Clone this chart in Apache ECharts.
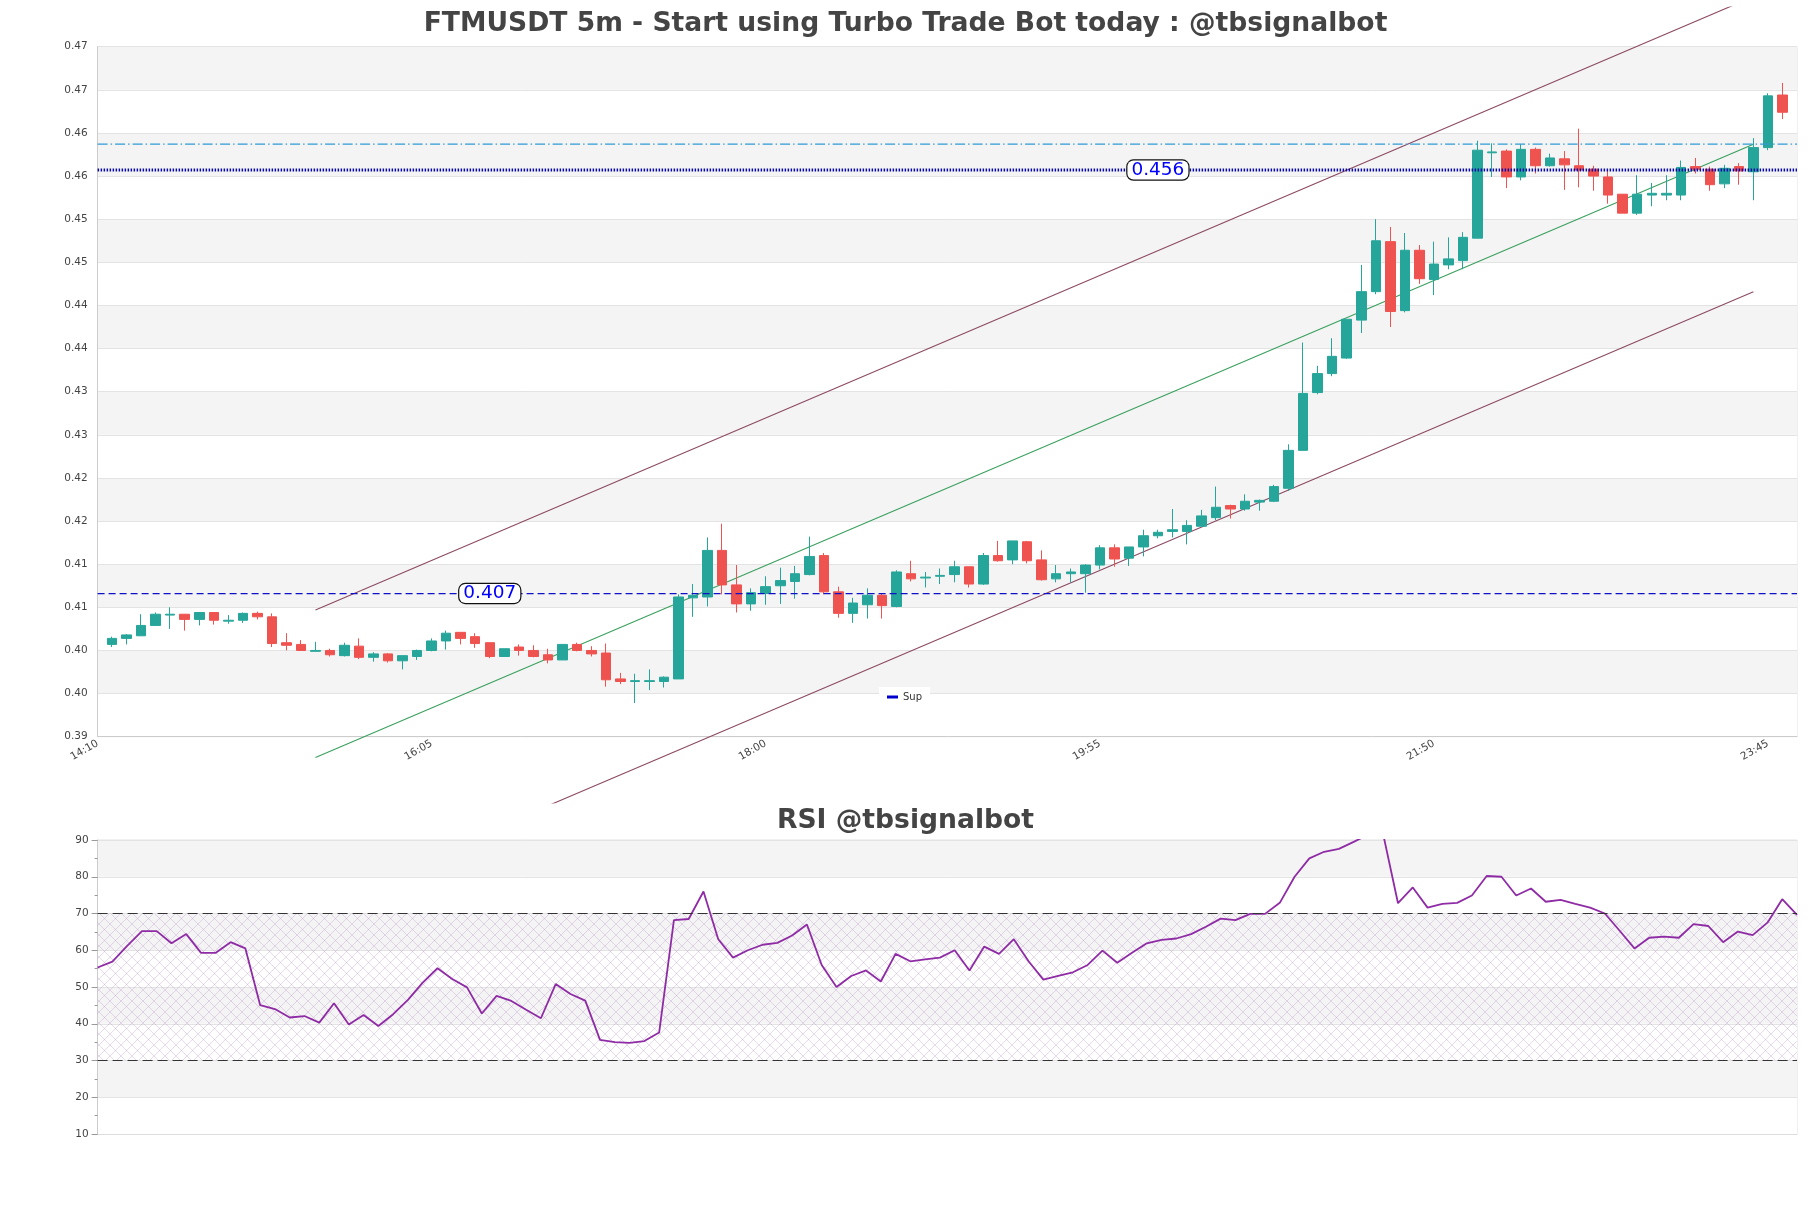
<!DOCTYPE html>
<html><head><meta charset="utf-8">
<script src="https://cdn.jsdelivr.net/npm/echarts@6/dist/echarts.min.js"></script>
<style>html,body{margin:0;padding:0;background:#fff}#c{width:1811px;height:1208px}</style>
</head><body><div id="c"></div><script>
const times = ["14:10","14:15","14:20","14:25","14:30","14:35","14:40","14:45","14:50","14:55",
"15:00","15:05","15:10","15:15","15:20","15:25","15:30","15:35","15:40","15:45","15:50","15:55",
"16:00","16:05","16:10","16:15","16:20","16:25","16:30","16:35","16:40","16:45","16:50","16:55",
"17:00","17:05","17:10","17:15","17:20","17:25","17:30","17:35","17:40","17:45","17:50","17:55",
"18:00","18:05","18:10","18:15","18:20","18:25","18:30","18:35","18:40","18:45","18:50","18:55",
"19:00","19:05","19:10","19:15","19:20","19:25","19:30","19:35","19:40","19:45","19:50","19:55",
"20:00","20:05","20:10","20:15","20:20","20:25","20:30","20:35","20:40","20:45","20:50","20:55",
"21:00","21:05","21:10","21:15","21:20","21:25","21:30","21:35","21:40","21:45","21:50","21:55",
"22:00","22:05","22:10","22:15","22:20","22:25","22:30","22:35","22:40","22:45","22:50","22:55",
"23:00","23:05","23:10","23:15","23:20","23:25","23:30","23:35","23:40","23:45","23:50","23:55"];
// candles at category index 1..116
const opens = [0.4007,0.4014,0.4017,0.4029,0.4041,0.4042,0.4036,0.4044,0.4034,0.4035,0.4043,0.4039,0.4009,0.4007,0.3999,0.4000,0.3994,0.4005,0.3992,0.3996,
0.3988,0.3993,0.4000,0.4011,0.4021,0.4016,0.4009,0.3993,0.4004,0.4000,0.3995,0.3989,0.4007,0.4000,0.3997,0.3967,0.3964,0.3964,0.3964,0.3967,
0.4061,0.4062,0.4116,0.4076,0.4054,0.4066,0.4075,0.4080,0.4088,0.4110,0.4068,0.4043,0.4053,0.4064,0.4051,0.4089,0.4084,0.4086,0.4088,0.4097,
0.4077,0.4110,0.4105,0.4126,0.4105,0.4083,0.4089,0.4089,0.4099,0.4119,0.4107,0.4120,0.4133,0.4138,0.4138,0.4144,0.4154,0.4168,0.4164,0.4172,
0.4173,0.4188,0.4232,0.4299,0.4321,0.4339,0.4383,0.4416,0.4474,0.4394,0.4464,0.4430,0.4447,0.4452,0.4478,0.4577,0.4579,0.4549,0.4581,0.4562,
0.4570,0.4562,0.4558,0.4549,0.4529,0.4507,0.4528,0.4528,0.4528,0.4561,0.4558,0.4541,0.4561,0.4555,0.4583,0.4644];
const closes = [0.4014,0.4018,0.4029,0.4042,0.4042,0.4036,0.4044,0.4035,0.4035,0.4043,0.4039,0.4008,0.4006,0.4000,0.4000,0.3995,0.4006,0.3992,0.3996,0.3988,
0.3994,0.4000,0.4011,0.4020,0.4014,0.4008,0.3993,0.4002,0.4000,0.3993,0.3989,0.4007,0.4000,0.3996,0.3966,0.3964,0.3965,0.3965,0.3969,0.4062,
0.4064,0.4116,0.4076,0.4054,0.4067,0.4074,0.4081,0.4089,0.4109,0.4068,0.4043,0.4055,0.4064,0.4052,0.4091,0.4083,0.4085,0.4087,0.4097,0.4077,
0.4110,0.4104,0.4127,0.4104,0.4082,0.4089,0.4091,0.4099,0.4119,0.4106,0.4120,0.4133,0.4137,0.4140,0.4145,0.4156,0.4166,0.4164,0.4173,0.4174,
0.4190,0.4232,0.4298,0.4321,0.4341,0.4384,0.4416,0.4475,0.4393,0.4464,0.4431,0.4448,0.4454,0.4479,0.4580,0.4578,0.4549,0.4581,0.4562,0.4571,
0.4563,0.4557,0.4550,0.4528,0.4507,0.4529,0.4530,0.4530,0.4560,0.4558,0.4540,0.4559,0.4556,0.4583,0.4643,0.4624];
const lows = [0.4004,0.4007,0.4017,0.4029,0.4025,0.4023,0.4029,0.4030,0.4031,0.4032,0.4036,0.4004,0.4000,0.4000,0.3999,0.3993,0.3993,0.3990,0.3987,0.3986,
0.3978,0.3989,0.3999,0.4001,0.4007,0.4003,0.3991,0.3993,0.3994,0.3992,0.3985,0.3989,0.3999,0.3993,0.3958,0.3961,0.3939,0.3954,0.3957,0.3967,
0.4039,0.4051,0.4065,0.4044,0.4046,0.4053,0.4054,0.4060,0.4087,0.4065,0.4038,0.4032,0.4037,0.4037,0.4050,0.4080,0.4073,0.4077,0.4079,0.4073,
0.4076,0.4103,0.4100,0.4101,0.4081,0.4079,0.4079,0.4067,0.4094,0.4097,0.4098,0.4109,0.4130,0.4131,0.4123,0.4144,0.4151,0.4153,0.4162,0.4162,
0.4172,0.4185,0.4232,0.4297,0.4318,0.4338,0.4368,0.4413,0.4375,0.4392,0.4425,0.4412,0.4442,0.4442,0.4478,0.4549,0.4536,0.4545,0.4553,0.4561,
0.4534,0.4537,0.4533,0.4518,0.4507,0.4505,0.4515,0.4522,0.4522,0.4553,0.4533,0.4536,0.4540,0.4522,0.4580,0.4616];
const highs = [0.4016,0.4019,0.4042,0.4044,0.4050,0.4042,0.4044,0.4044,0.4041,0.4044,0.4045,0.4043,0.4020,0.4012,0.4010,0.4002,0.4009,0.4014,0.3998,0.3997,
0.3994,0.4001,0.4014,0.4023,0.4021,0.4020,0.4009,0.4002,0.4007,0.4006,0.4002,0.4007,0.4009,0.4005,0.4008,0.3974,0.3973,0.3978,0.3970,0.4065,
0.4077,0.4131,0.4147,0.4099,0.4072,0.4086,0.4096,0.4098,0.4132,0.4113,0.4074,0.4061,0.4072,0.4066,0.4093,0.4104,0.4091,0.4095,0.4104,0.4097,
0.4113,0.4127,0.4127,0.4127,0.4116,0.4099,0.4095,0.4100,0.4122,0.4123,0.4120,0.4140,0.4140,0.4164,0.4151,0.4163,0.4190,0.4169,0.4181,0.4175,
0.4192,0.4239,0.4357,0.4330,0.4362,0.4384,0.4447,0.4500,0.4491,0.4484,0.4470,0.4474,0.4479,0.4485,0.4591,0.4588,0.4581,0.4587,0.4583,0.4576,
0.4579,0.4605,0.4562,0.4558,0.4529,0.4551,0.4542,0.4551,0.4568,0.4571,0.4561,0.4563,0.4565,0.4594,0.4646,0.4658];
const rsi = [55.3,56.9,61.2,65.2,65.2,61.9,64.4,59.3,59.3,62.2,60.5,45.1,44.0,41.7,42.1,40.3,45.6,39.8,42.4,39.4,
42.6,46.5,51.2,55.1,52.2,49.9,42.8,47.6,46.2,43.8,41.5,50.8,48.1,46.3,35.6,35.0,34.8,35.3,37.6,68.2,
68.5,76.0,63.0,58.0,60.0,61.5,62.0,64.0,67.0,56.0,50.0,53.0,54.5,51.5,59.0,57.0,57.5,58.0,60.0,54.5,
61.0,59.0,63.0,57.0,52.0,53.0,54.0,56.0,59.9,56.6,59.3,61.9,62.8,63.2,64.4,66.4,68.6,68.2,69.9,69.9,
72.9,80.0,85.0,86.8,87.6,89.5,91.5,91.5,72.8,77.1,71.6,72.6,72.9,74.9,80.2,80.0,74.9,76.8,73.2,73.7,
72.6,71.6,70.0,65.3,60.5,63.4,63.7,63.4,67.1,66.6,62.2,65.1,64.1,67.5,73.9,69.6];
const supLevel = 0.4066;
const resLevel = 0.4557;
const topLevel = 0.4587;
const supLabelAt = 27, resLabelAt = 73;
const channelIdx = [15, 114];
const channelMid = [0.3876, 0.4587];
const channelHalf = 0.0171;
const rsiLevels = [30, 70];
const mainTitle = "FTMUSDT 5m - Start using Turbo Trade Bot today : @tbsignalbot";
const rsiTitle = "RSI @tbsignalbot";

// layout
const L = 97.6, R = 14, mainTop = 46.7, mainBottom = 736.7, clipTop = 7, clipBottom = 803;
const rsiTop = 840, rsiBottom = 1134;
const yMin = 0.39, yMax = 0.47;
const ppu = (mainBottom - mainTop) / (yMax - yMin);
const ovMax = yMax + (mainTop - clipTop) / ppu;
const ovMin = yMin - (clipBottom - mainBottom) / ppu;

const candleData = times.map((t, i) => (i >= 1 && i <= opens.length) ? [opens[i-1], closes[i-1], lows[i-1], highs[i-1]] : '-');
const rsiTimes = times.slice(1, 1 + rsi.length);
const lastIdx = times.length - 1;

function hatch(){
  const c = document.createElement('canvas'); c.width = 11; c.height = 11;
  const g = c.getContext('2d');
  g.strokeStyle = 'rgba(170,130,190,0.5)'; g.lineWidth = 0.6;
  g.beginPath(); g.moveTo(0,0); g.lineTo(11,11); g.moveTo(11,0); g.lineTo(0,11); g.stroke();
  return c;
}
const fmt2 = v => (Math.floor(v*100 + 0.5 + 1e-6)/100).toFixed(2);
const lbl = {fontSize:10.5, color:'#444'};
const boxLabel = (txt) => ({show:true, position:'inside', formatter: txt, color:'#0000ff', fontSize:18.5,
  backgroundColor:'#fff', borderColor:'#111', borderWidth:1.2, borderRadius:6, padding:[0,4], lineHeight:19});
const titleStyle = {fontSize:26.6, fontWeight:'bold', color:'#444', fontFamily:'DejaVu Sans'};

const chart = echarts.init(document.getElementById('c'), null, {renderer:'canvas'});
chart.setOption({
  animation:false,
  textStyle:{fontFamily:'DejaVu Sans'},
  title:[
    {text:mainTitle, left:'center', top:6, textStyle:titleStyle},
    {text:rsiTitle, left:'center', top:803, textStyle:titleStyle}
  ],
  legend:{data:['Sup'], left:879, top:687, icon:'rect', itemWidth:11, itemHeight:3, backgroundColor:'#fff',
    padding:[5,8], textStyle:{fontSize:10, color:'#333'}, itemGap:5},
  grid:[
    {left:L, right:R, top:mainTop, height:mainBottom-mainTop, show:true, borderColor:'#e2e2e2', borderWidth:1, backgroundColor:'transparent'},
    {left:L, right:R, top:rsiTop, height:rsiBottom-rsiTop, show:true, borderColor:'#e2e2e2', borderWidth:1},
    {left:L, right:R, top:clipTop, height:clipBottom-clipTop}
  ],
  xAxis:[
    {type:'category', gridIndex:0, data:times, boundaryGap:false,
     axisLine:{lineStyle:{color:'#cccccc'}}, axisTick:{show:false},
     axisLabel:Object.assign({interval:(i)=> i % 23 === 0, rotate:30, margin:6, hideOverlap:false}, lbl),
     splitLine:{show:false}},
    {type:'category', gridIndex:1, data:rsiTimes, boundaryGap:false,
     axisLine:{lineStyle:{color:'#dddddd'}}, axisTick:{show:false}, axisLabel:{show:false}, splitLine:{show:false}},
    {type:'category', gridIndex:2, data:times, boundaryGap:false, show:false}
  ],
  yAxis:[
    {type:'value', gridIndex:0, min:yMin, max:yMax, interval:0.005, scale:true,
     axisLine:{show:true, lineStyle:{color:'#cccccc'}}, axisTick:{show:false},
     axisLabel:Object.assign({formatter:fmt2, margin:10}, lbl),
     splitLine:{lineStyle:{color:'#e3e3e3'}},
     splitArea:{show:true, areaStyle:{color:['#ffffff','#f4f4f4']}}},
    {type:'value', gridIndex:1, min:10, max:90, interval:10,
     axisLine:{show:true, lineStyle:{color:'#cccccc'}},
     axisTick:{show:true, length:6, lineStyle:{color:'#999'}},
     minorTick:{show:true, splitNumber:2, length:3, lineStyle:{color:'#999'}},
     axisLabel:Object.assign({margin:9}, lbl),
     splitLine:{lineStyle:{color:'#e3e3e3'}},
     splitArea:{show:true, areaStyle:{color:['#ffffff','#f4f4f4']}}},
    {type:'value', gridIndex:2, min:ovMin, max:ovMax, show:false, splitLine:{show:false}}
  ],
  series:[
    {name:'upper', type:'line', xAxisIndex:2, yAxisIndex:2, symbol:'none', clip:true, z:2,
     data:[[channelIdx[0], channelMid[0]+channelHalf],[channelIdx[1], channelMid[1]+channelHalf]],
     lineStyle:{color:'#8c4a63', width:1.1}},
    {name:'mid', type:'line', xAxisIndex:2, yAxisIndex:2, symbol:'none', clip:true, z:2,
     data:[[channelIdx[0], channelMid[0]],[channelIdx[1], channelMid[1]]],
     lineStyle:{color:'#3aa05e', width:1.1}},
    {name:'lower', type:'line', xAxisIndex:2, yAxisIndex:2, symbol:'none', clip:true, z:2,
     data:[[channelIdx[0], channelMid[0]-channelHalf],[channelIdx[1], channelMid[1]-channelHalf]],
     lineStyle:{color:'#8c4a63', width:1.1}},
    {name:'FTMUSDT', type:'candlestick', xAxisIndex:0, yAxisIndex:0, data:candleData, barWidth:10, z:3,
     itemStyle:{color:'#26a69a', color0:'#ef5350', borderColor:'#26a69a', borderColor0:'#ef5350', borderWidth:1}},
    {name:'Sup', type:'line', xAxisIndex:0, yAxisIndex:0, symbol:'none', z:4,
     data:[[0, supLevel],[lastIdx, supLevel]], itemStyle:{color:'#0000cc'},
     lineStyle:{color:'#1010c8', width:1.3, type:[7,4]},
     markPoint:{symbol:'circle', symbolSize:1, itemStyle:{color:'rgba(0,0,0,0)'}, z:6,
       data:[{coord:[supLabelAt, supLevel], label:boxLabel(supLevel.toFixed(3))}]}},
    {name:'Res', type:'line', xAxisIndex:0, yAxisIndex:0, symbol:'none', z:4,
     data:[[0, resLevel],[lastIdx, resLevel]],
     lineStyle:{color:'#0a0aa8', width:3, type:[1.5,1.5]},
     markPoint:{symbol:'circle', symbolSize:1, itemStyle:{color:'rgba(0,0,0,0)'}, z:6,
       data:[{coord:[resLabelAt, resLevel], label:boxLabel(resLevel.toFixed(3))}]}},
    {name:'Top', type:'line', xAxisIndex:0, yAxisIndex:0, symbol:'none', z:4,
     data:[[0, topLevel],[lastIdx, topLevel]],
     lineStyle:{color:'#2e9ad6', width:1.3, type:[10,3,1.5,3]}},
    {name:'RSI', type:'line', xAxisIndex:1, yAxisIndex:1, data:rsi, symbol:'none', clip:true, z:3,
     lineStyle:{color:'#8e2ba5', width:1.8},
     markArea:{silent:true, itemStyle:{color:{image:hatch(), repeat:'repeat'}},
       data:[[{yAxis:rsiLevels[0]},{yAxis:rsiLevels[1]}]]},
     markLine:{silent:true, symbol:'none', label:{show:false},
       lineStyle:{color:'#333', width:1.2, type:[10,5]},
       data:[{yAxis:rsiLevels[0]},{yAxis:rsiLevels[1]}]}}
  ]
});
</script></body></html>
